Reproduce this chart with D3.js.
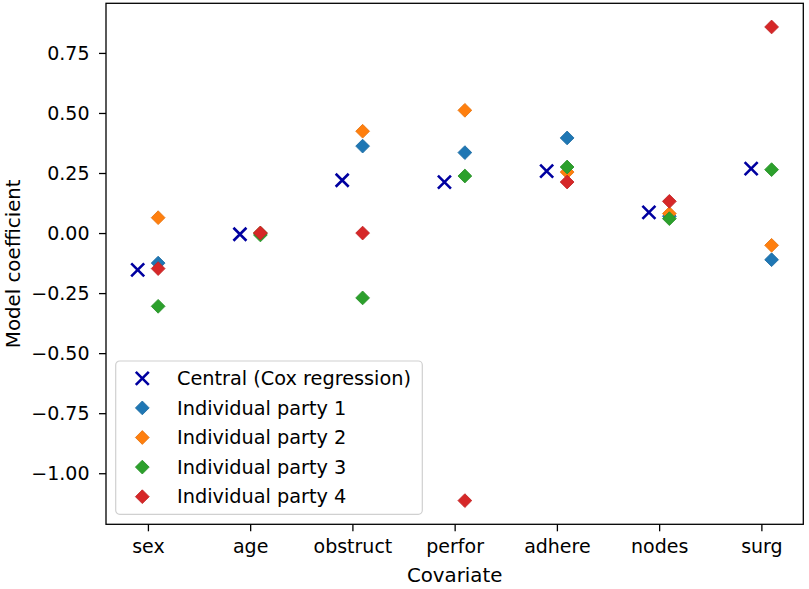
<!DOCTYPE html>
<html lang="en">
<head>
    <meta charset="UTF-8">
    <title>Model coefficients by covariate</title>
    <script src="https://d3js.org/d3.v7.min.js"></script>
    <style>
        body { margin: 0; background: #fff; }
        text { font-family: "DejaVu Sans", sans-serif; fill: #000; }
        .axis text { font-size: 19px; }
        .axis path, .axis line { stroke: #000; stroke-width: 1.3px; }
        .label { font-size: 19.8px; }
        .legend text { font-size: 19.3px; }
    </style>
</head>
<body>
    <svg width="809" height="589"></svg>

    <script>
        // Data
        const covariates = ["sex", "age", "obstruct", "perfor", "adhere", "nodes", "surg"];
        const central = [-0.153, -0.005, 0.22, 0.212, 0.258, 0.086, 0.268];
        const party1 = [-0.125, 0.0, 0.362, 0.335, 0.396, 0.07, -0.111];
        const party2 = [0.064, 0.0, 0.424, 0.511, 0.254, 0.081, -0.051];
        const party3 = [-0.305, -0.008, -0.27, 0.2375, 0.275, 0.06, 0.264];
        const party4 = [-0.148, 0.0, 0.0, -1.114, 0.2125, 0.132, 0.858];
        const yTicks = [-1.0, -0.75, -0.5, -0.25, 0.0, 0.25, 0.5, 0.75];

        const seriesNames = ["Central (Cox regression)", "Individual party 1", "Individual party 2",
            "Individual party 3", "Individual party 4"];
        const partyColors = ["#1f77b4", "#ff7f0e", "#2ca02c", "#d62728"];
        const parties = [party1, party2, party3, party4];

        const width = 809, height = 589;
        const margin = { top: 3.3, right: 5.7, bottom: 64.7, left: 106 };
        const innerW = width - margin.left - margin.right;
        const innerH = height - margin.top - margin.bottom;

        const svg = d3.select("svg");
        const g = svg.append("g").attr("transform", `translate(${margin.left},${margin.top})`);

        // x: central at i-0.1, parties at i+0.1, matplotlib style 5% margins
        const xMin = -0.1, xMax = covariates.length - 1 + 0.1;
        const xPad = (xMax - xMin) * 0.05;
        const x = d3.scaleLinear().domain([xMin - xPad, xMax + xPad]).range([0, innerW]);

        const allY = central.concat(...parties);
        const yLo = d3.min(allY), yHi = d3.max(allY);
        const yPad = (yHi - yLo) * 0.05;
        const y = d3.scaleLinear().domain([yLo - yPad, yHi + yPad]).range([innerH, 0]);

        // axes
        const xAxis = d3.axisBottom(x)
            .tickValues(d3.range(covariates.length))
            .tickFormat(i => covariates[i])
            .tickSize(7).tickPadding(8.5);
        g.append("g").attr("class", "axis")
            .attr("transform", `translate(0,${innerH})`)
            .call(xAxis)
            .call(a => a.select(".domain").remove());

        const yAxis = d3.axisLeft(y)
            .tickValues(yTicks)
            .tickFormat(d3.format(".2f"))
            .tickSize(7).tickPadding(9.5);
        g.append("g").attr("class", "axis").call(yAxis)
            .call(a => a.select(".domain").remove());

        // spines
        g.append("rect")
            .attr("width", innerW).attr("height", innerH)
            .attr("fill", "none").attr("stroke", "#000").attr("stroke-width", 1.3);

        // axis labels
        svg.append("text").attr("class", "label")
            .attr("x", margin.left + innerW / 2).attr("y", 582)
            .attr("text-anchor", "middle").text("Covariate");
        svg.append("text").attr("class", "label")
            .attr("transform", `translate(20,${margin.top + innerH / 2}) rotate(-90)`)
            .attr("text-anchor", "middle").text("Model coefficient");

        const diamond = d3.symbol().type(d3.symbolSquare).size(95);
        const cross = "M-6.5,-6.5L6.5,6.5M-6.5,6.5L6.5,-6.5";

        // central markers
        g.selectAll(".central")
            .data(central)
            .enter()
            .append("path")
            .attr("class", "central")
            .attr("d", cross)
            .attr("fill", "none")
            .attr("stroke", "#0000a0")
            .attr("stroke-width", 2.6)
            .attr("transform", (d, i) => `translate(${x(i - 0.1)},${y(d)})`);

        // individual parties
        parties.forEach((vals, k) => {
            g.selectAll(".party" + k)
                .data(vals)
                .enter()
                .append("path")
                .attr("class", "party" + k)
                .attr("d", diamond)
                .attr("fill", partyColors[k])
                .attr("stroke", d3.color(partyColors[k]).darker(0.3))
                .attr("stroke-width", 0.8)
                .attr("transform", (d, i) => `translate(${x(i + 0.1)},${y(d)}) rotate(45)`);
        });

        // legend
        const leg = svg.append("g").attr("class", "legend").attr("transform", "translate(115.7,361)");
        leg.append("rect")
            .attr("width", 306.6).attr("height", 153.3)
            .attr("rx", 4).attr("ry", 4)
            .attr("fill", "#fff").attr("fill-opacity", 0.8)
            .attr("stroke", "#d0d0d0").attr("stroke-width", 1.2);

        const rows = leg.selectAll(".row")
            .data(seriesNames)
            .enter()
            .append("g")
            .attr("class", "row")
            .attr("transform", (d, i) => `translate(0,${17.3 + i * 29.6})`);

        rows.append("path")
            .attr("transform", "translate(26.6,0)")
            .attr("d", (d, i) => i === 0 ? cross : diamond())
            .attr("fill", (d, i) => i === 0 ? "none" : partyColors[i - 1])
            .attr("stroke", (d, i) => i === 0 ? "#0000a0" : d3.color(partyColors[i - 1]).darker(0.3))
            .attr("stroke-width", (d, i) => i === 0 ? 2.6 : 0.8)
            .filter((d, i) => i > 0)
            .attr("transform", "translate(26.6,0) rotate(45)");

        rows.append("text")
            .attr("x", 61.3)
            .attr("dy", "0.35em")
            .text(d => d);
    </script>
</body>
</html>
